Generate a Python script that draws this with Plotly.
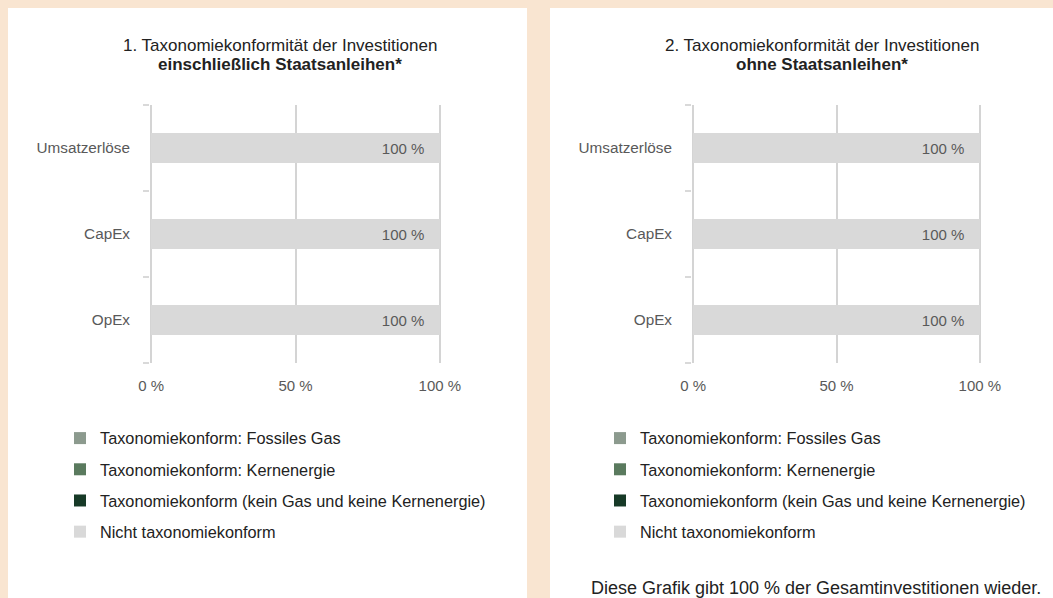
import plotly.graph_objects as go
from plotly.subplots import make_subplots

# categories and values (percent of investments)
categories = ["Umsatzerlöse", "CapEx", "OpEx"]
series_names = [
    "Taxonomiekonform: Fossiles Gas",
    "Taxonomiekonform: Kernenergie",
    "Taxonomiekonform (kein Gas und keine Kernenergie)",
    "Nicht taxonomiekonform",
]
# chart 1: including sovereign bonds
incl_gas = [0, 0, 0]
incl_nuclear = [0, 0, 0]
incl_aligned = [0, 0, 0]
incl_not_aligned = [100, 100, 100]
# chart 2: excluding sovereign bonds
excl_gas = [0, 0, 0]
excl_nuclear = [0, 0, 0]
excl_aligned = [0, 0, 0]
excl_not_aligned = [100, 100, 100]

x_ticks = [0, 50, 100]
x_tick_labels = ["0 %", "50 %", "100 %"]

colors = ["#8c9a8e", "#5a7a5e", "#173a27", "#d9d9d9"]

W, H = 1053, 598
FONT = "Liberation Sans, Arial, sans-serif"
PEACH = "#f9e5d1"


def px(x):
    return x / W


def py(y):
    return 1 - y / H


fig = make_subplots(rows=1, cols=2)

for col, values, legend in [
    (1, [incl_gas, incl_nuclear, incl_aligned, incl_not_aligned], "legend"),
    (2, [excl_gas, excl_nuclear, excl_aligned, excl_not_aligned], "legend2"),
]:
    for i, (name, vals) in enumerate(zip(series_names, values)):
        is_last = i == len(series_names) - 1
        fig.add_trace(go.Bar(
            y=categories, x=vals, name=name, orientation="h",
            marker=dict(color=colors[i], line=dict(width=0)),
            width=0.35,
            legend=legend, legendgroup=f"{legend}_{i}",
            text=[f"{v} %\u00a0\u00a0\u00a0" for v in vals] if is_last else None,
            textposition="inside" if is_last else "none",
            insidetextanchor="end",
            textfont=dict(color="#595959", size=15, family=FONT),
            hoverinfo="none",
        ), row=1, col=col)

fig.update_layout(
    width=W, height=H,
    autosize=False,
    barmode="stack",
    margin=dict(l=0, r=0, t=0, b=0, pad=0, autoexpand=False),
    paper_bgcolor=PEACH,
    plot_bgcolor="white",
    font=dict(family=FONT, size=15, color="#222222"),
    xaxis=dict(domain=[px(150), px(441)]),
    xaxis2=dict(domain=[px(692), px(981)]),
    yaxis=dict(domain=[py(363), py(105)]),
    yaxis2=dict(domain=[py(363), py(105)]),
    legend=dict(x=px(60), y=py(421), xanchor="left", yanchor="top",
                traceorder="grouped", tracegroupgap=7, bgcolor="rgba(0,0,0,0)",
                font=dict(size=16.3, color="#222222", family=FONT)),
    legend2=dict(x=px(600), y=py(421), xanchor="left", yanchor="top",
                 traceorder="grouped", tracegroupgap=7, bgcolor="rgba(0,0,0,0)",
                 font=dict(size=16.3, color="#222222", family=FONT)),
)

fig.update_xaxes(range=[-0.4, 100.4], tickvals=x_ticks, ticktext=x_tick_labels,
                 showgrid=True, gridcolor="#d4d4d4", gridwidth=2,
                 zeroline=False, showline=False, ticks="", automargin=False,
                 ticklabelstandoff=12,
                 tickfont=dict(color="#595959", size=15), fixedrange=True)
fig.update_yaxes(categoryorder="array", categoryarray=categories[::-1],
                 range=[-0.5, 2.5], showgrid=False, zeroline=False, showline=False,
                 ticks="outside", tickson="boundaries", ticklen=6,
                 tickcolor="#d9d9d9", tickwidth=2, automargin=False,
                 ticklabelstandoff=19,
                 tickfont=dict(color="#595959", size=15.3), fixedrange=True)

# white panels
fig.add_shape(type="rect", xref="paper", yref="paper",
              x0=px(8), x1=px(527), y0=0, y1=py(8),
              fillcolor="white", line=dict(width=0), layer="below")
fig.add_shape(type="rect", xref="paper", yref="paper",
              x0=px(550), x1=1, y0=0, y1=py(8),
              fillcolor="white", line=dict(width=0), layer="below")

titles = [
    ("1. Taxonomiekonformität der Investitionen", "<b>einschließlich Staatsanleihen*</b>", 280),
    ("2. Taxonomiekonformität der Investitionen", "<b>ohne Staatsanleihen*</b>", 822),
]
for line1, line2, cx in titles:
    for text, ty in [(line1, 45), (line2, 64)]:
        fig.add_annotation(text=text, xref="paper", yref="paper", x=px(cx), y=py(ty),
                           xanchor="center", yanchor="middle", showarrow=False,
                           font=dict(size=17, color="#222222"), align="center")

fig.add_annotation(text="Diese Grafik gibt 100 % der Gesamtinvestitionen wieder.",
                   xref="paper", yref="paper", x=px(816), y=py(588),
                   xanchor="center", yanchor="middle", showarrow=False,
                   font=dict(size=18, color="#222222"))

fig.write_html("out.html", post_script="document.body.style.margin='0';",
               config={"displayModeBar": False})
